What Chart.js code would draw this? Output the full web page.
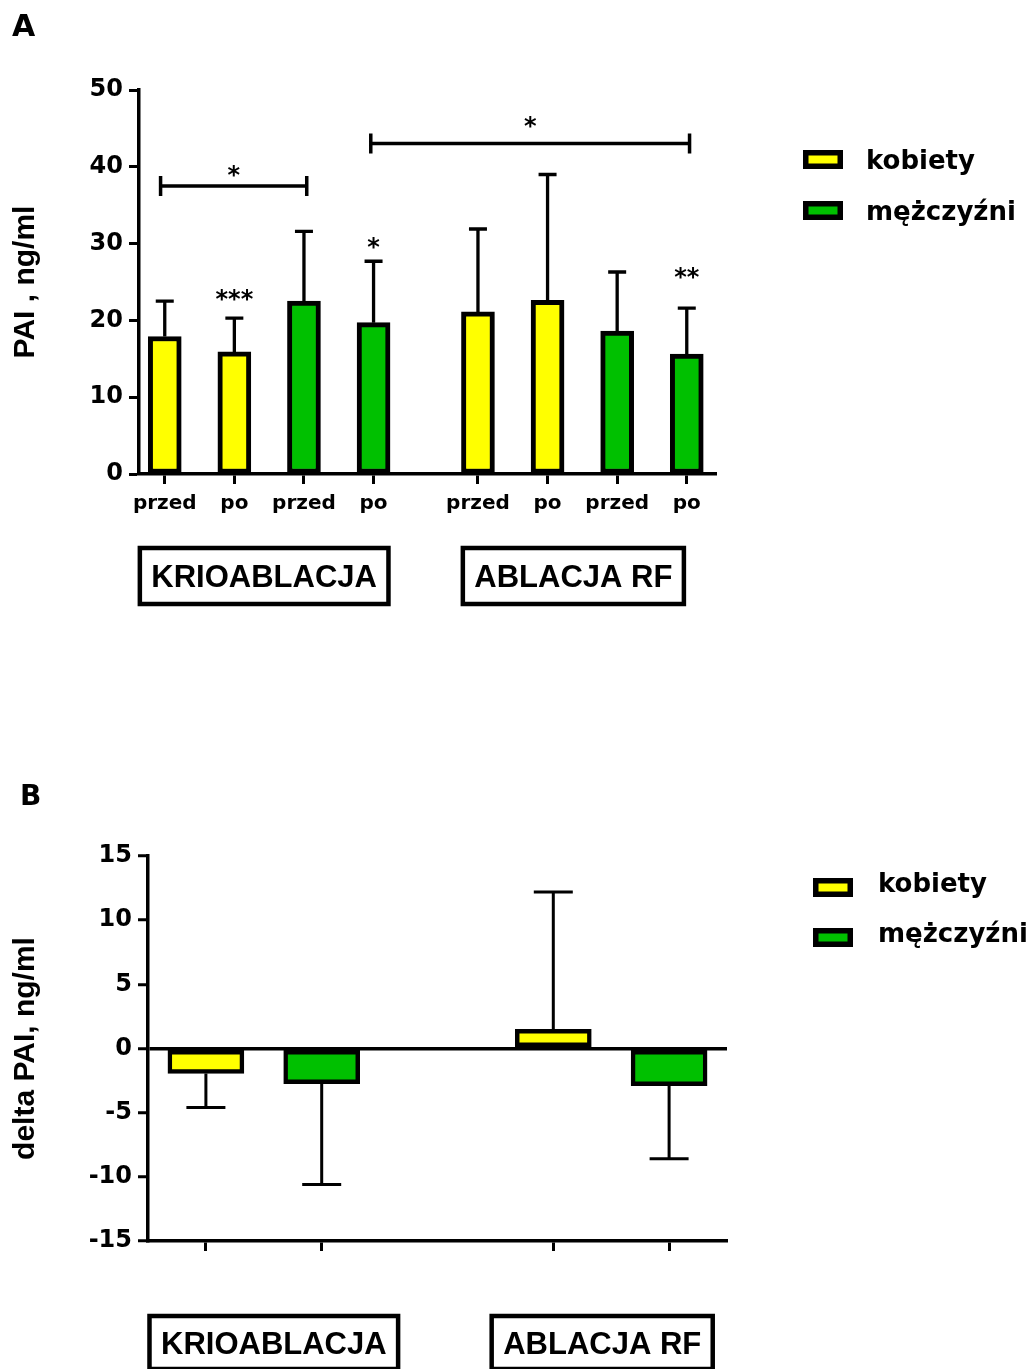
<!DOCTYPE html>
<html><head><meta charset="utf-8">
<script src="https://cdn.jsdelivr.net/npm/chart.js@4.4.1/dist/chart.umd.min.js"></script>
<style>
html,body{margin:0;padding:0;background:#fff;}
body{width:1036px;height:1369px;position:relative;overflow:hidden;}
canvas{position:absolute;left:0;}
#cA{top:0;}
#cB{top:700px;}
</style></head><body>
<canvas id="cA" width="1036" height="640"></canvas>
<canvas id="cB" width="1036" height="669"></canvas>
<script>
// ---------- DATA: panel A ----------
const positionsA = [0, 1, 2, 3, 4.5, 5.5, 6.5, 7.5];
const tickLabelsA = ['przed', 'po', 'przed', 'po', 'przed', 'po', 'przed', 'po'];
const kobietyPosA = [0, 1, 4.5, 5.5];
const kobietyMeanA = [17.9, 15.9, 21.1, 22.6];
const kobietySdA = [4.6, 4.4, 10.8, 16.4];
const mezczyzniPosA = [2, 3, 6.5, 7.5];
const mezczyzniMeanA = [22.5, 19.7, 18.6, 15.6];
const mezczyzniSdA = [9.1, 8.0, 7.7, 6.0];
const groupLabels = ['KRIOABLACJA', 'ABLACJA RF'];
const groupSpansA = [[0, 3], [4.5, 7.5]];
const starsA = [{x: 1, y: 23.4, text: '***'}, {x: 3, y: 30.2, text: '*'}, {x: 7.5, y: 26.3, text: '**'}];
const bracketsA = [{from: -0.06, to: 2.04, y: 37.5, text: '*', textY: 39.6},
                   {from: 2.96, to: 7.54, y: 43.05, text: '*', textY: 46.0}];
const seriesLabels = ['kobiety', 'mężczyźni'];

// ---------- DATA: panel B ----------
const positionsB = [0, 1, 3, 4];
const kobietyPosB = [0, 3];
const kobietyMeanB = [-1.95, 1.5];
const kobietySdB = [2.65, 10.7];
const mezczyzniPosB = [1, 4];
const mezczyzniMeanB = [-2.75, -2.9];
const mezczyzniSdB = [7.85, 5.7];
const groupSpansB = [[0, 1], [3, 4]];

const YELLOW = '#ffff00';
const GREEN = '#00c000';
const DJ = 'DejaVu Sans';
const LIB = 'Liberation Sans';

Chart.defaults.font.family = DJ;
Chart.defaults.font.weight = 'bold';
Chart.defaults.color = '#000';

const annot = {
  id: 'annot',
  afterDatasetsDraw(chart, args, o) {
    const ctx = chart.ctx, xs = chart.scales.x, ys = chart.scales.y;
    ctx.save();
    ctx.strokeStyle = '#000';
    ctx.fillStyle = '#000';
    // error bars
    chart.data.datasets.forEach(ds => {
      ds.data.forEach((pt, i) => {
        const x = xs.getPixelForValue(pt.x);
        const y0 = ys.getPixelForValue(pt.y);
        const end = pt.y >= 0 ? pt.y + ds.sd[i] : pt.y - ds.sd[i];
        const y1 = ys.getPixelForValue(end);
        ctx.lineWidth = o.errWidth;
        ctx.beginPath();
        ctx.moveTo(x, y0); ctx.lineTo(x, y1);
        ctx.moveTo(x - o.capHalf, y1); ctx.lineTo(x + o.capHalf, y1);
        ctx.stroke();
      });
    });
    // stars
    ctx.font = 'bold ' + o.starSize + 'px "' + DJ + '"';
    ctx.textAlign = 'center';
    ctx.textBaseline = 'alphabetic';
    (o.stars || []).forEach(s => {
      ctx.fillText(s.text, xs.getPixelForValue(s.x), ys.getPixelForValue(s.y) + 0.55 * o.starSize);
    });
    // brackets
    (o.brackets || []).forEach(b => {
      const x1 = xs.getPixelForValue(b.from), x2 = xs.getPixelForValue(b.to), y = ys.getPixelForValue(b.y);
      ctx.lineWidth = 3.5;
      ctx.beginPath();
      ctx.moveTo(x1, y); ctx.lineTo(x2, y);
      ctx.moveTo(x1, y - 10); ctx.lineTo(x1, y + 10);
      ctx.moveTo(x2, y - 10); ctx.lineTo(x2, y + 10);
      ctx.stroke();
      ctx.fillText(b.text, (x1 + x2) / 2, ys.getPixelForValue(b.textY) + 0.55 * o.starSize);
    });
    // group boxes
    ctx.font = 'bold ' + o.groupFont + 'px "' + LIB + '"';
    o.groups.forEach((g, i) => {
      const cx = (xs.getPixelForValue(g.span[0]) + xs.getPixelForValue(g.span[1])) / 2 + o.groupNudge[i];
      const w = ctx.measureText(g.label).width + 2 * o.groupPad;
      const top = chart.chartArea.bottom + o.groupTop;
      const h = o.groupH;
      ctx.lineWidth = 4.5;
      ctx.strokeRect(cx - w / 2, top, w, h);
      ctx.textAlign = 'center';
      ctx.fillText(g.label, cx, top + h / 2 + 0.358 * o.groupFont);
    });
    // legend
    ctx.font = 'bold ' + o.legend.size + 'px "' + DJ + '"';
    ctx.textAlign = 'left';
    chart.data.datasets.forEach((ds, i) => {
      const L = o.legend;
      const by = L.boxY + i * L.gap;
      ctx.fillStyle = '#000';
      ctx.fillRect(L.boxX, by, L.boxW, L.boxH);
      ctx.fillStyle = ds.backgroundColor;
      ctx.fillRect(L.boxX + L.border, by + L.border, L.boxW - 2 * L.border, L.boxH - 2 * L.border);
      ctx.fillStyle = '#000';
      ctx.fillText(ds.label, L.textX, L.textY + i * L.gap);
    });
    // panel letter
    ctx.font = 'bold ' + o.panel.size + 'px "' + DJ + '"';
    ctx.fillText(o.panel.text, o.panel.x, o.panel.y);
    ctx.restore();
  }
};

function toPoints(pos, vals) { return pos.map((x, i) => ({x: x, y: vals[i]})); }

function barDataset(label, pos, mean, sd, color, thick, bw) {
  return {label: label, data: toPoints(pos, mean), sd: sd, backgroundColor: color,
          borderColor: '#000', borderWidth: bw, borderSkipped: false,
          barThickness: thick, grouped: false};
}

// ---------- Chart A ----------
new Chart(document.getElementById('cA'), {
  type: 'bar',
  data: {datasets: [
    barDataset(seriesLabels[0], kobietyPosA, kobietyMeanA, kobietySdA, YELLOW, 33, 5),
    barDataset(seriesLabels[1], mezczyzniPosA, mezczyzniMeanA, mezczyzniSdA, GREEN, 33, 5)
  ]},
  options: {
    responsive: false, animation: false,
    layout: {padding: {left: 0, right: 320, top: 90, bottom: 0}},
    plugins: {
      legend: {display: false}, tooltip: {enabled: false},
      annot: {
        errWidth: 3.3, capHalf: 9, starSize: 24,
        stars: starsA, brackets: bracketsA,
        groups: groupLabels.map((l, i) => ({label: l, span: groupSpansA[i]})),
        groupNudge: [-5, -9], groupPad: 11.5, groupTop: 74, groupH: 56, groupFont: 31,
        legend: {boxX: 803, boxY: 150, boxW: 40, boxH: 19, border: 5.5, gap: 51, textX: 866, textY: 169, size: 26},
        panel: {text: 'A', x: 12, y: 36, size: 30}
      }
    },
    scales: {
      x: {
        type: 'linear', min: -0.37, max: 7.92, offset: false,
        afterBuildTicks: s => { s.ticks = positionsA.map(v => ({value: v})); },
        ticks: {autoSkip: false, maxRotation: 0, minRotation: 0, padding: 8,
                font: {size: 20, weight: 'bold', family: DJ}, color: '#000',
                callback: (v, i) => tickLabelsA[i]},
        grid: {offset: false, drawOnChartArea: false, drawTicks: true, tickLength: 10, tickWidth: 3, tickColor: '#000'},
        border: {display: true, color: '#000', width: 3.5},
        afterFit: s => { s.height = 166; }
      },
      y: {
        min: 0, max: 50,
        ticks: {stepSize: 10, padding: 6, font: {size: 24, weight: 'bold', family: DJ}, color: '#000'},
        grid: {drawOnChartArea: false, drawTicks: true, tickLength: 10, tickWidth: 3, tickColor: '#000'},
        border: {display: true, color: '#000', width: 3.5},
        title: {display: true, text: 'PAI , ng/ml', color: '#000',
                font: {family: LIB, size: 30, weight: 'bold'}, padding: {top: 8, bottom: 0}},
        afterFit: s => { s.width = 139; }
      }
    }
  },
  plugins: [annot]
});

// ---------- Chart B ----------
new Chart(document.getElementById('cB'), {
  type: 'bar',
  data: {datasets: [
    barDataset(seriesLabels[0], kobietyPosB, kobietyMeanB, kobietySdB, YELLOW, 76, 4.5),
    barDataset(seriesLabels[1], mezczyzniPosB, mezczyzniMeanB, mezczyzniSdB, GREEN, 76, 4.5)
  ]},
  options: {
    responsive: false, animation: false,
    layout: {padding: {left: 0, right: 309, top: 156, bottom: 0}},
    plugins: {
      legend: {display: false}, tooltip: {enabled: false},
      annot: {
        errWidth: 3, capHalf: 19.5, starSize: 24,
        groups: groupLabels.map((l, i) => ({label: l, span: groupSpansB[i]})),
        groupNudge: [10, -9], groupPad: 11.5, groupTop: 75, groupH: 53, groupFont: 31,
        legend: {boxX: 813, boxY: 178, boxW: 40, boxH: 19, border: 5.5, gap: 50, textX: 878, textY: 192, size: 26},
        panel: {text: 'B', x: 20, y: 105, size: 28}
      }
    },
    scales: {
      x: {
        type: 'linear', min: -0.5, max: 4.5, offset: false,
        afterBuildTicks: s => { s.ticks = positionsB.map(v => ({value: v})); },
        ticks: {autoSkip: false, maxRotation: 0, minRotation: 0, callback: () => ''},
        grid: {offset: false, drawOnChartArea: false, drawTicks: true, tickLength: 10, tickWidth: 3, tickColor: '#000'},
        border: {display: true, color: '#000', width: 3.5},
        afterFit: s => { s.height = 128; }
      },
      y: {
        min: -15, max: 15,
        ticks: {stepSize: 5, padding: 6, font: {size: 24, weight: 'bold', family: DJ}, color: '#000'},
        grid: {drawOnChartArea: true, drawTicks: true, tickLength: 10, tickWidth: 3, tickColor: '#000',
               lineWidth: 3.5,
               color: c => (c.tick && c.tick.value === 0) ? '#000' : 'rgba(0,0,0,0)'},
        border: {display: true, color: '#000', width: 3.5},
        title: {display: true, text: 'delta PAI, ng/ml', color: '#000',
                font: {family: LIB, size: 30, weight: 'bold'}, padding: {top: 8, bottom: 0}},
        afterFit: s => { s.width = 148; }
      }
    }
  },
  plugins: [annot]
});
</script>
</body></html>
